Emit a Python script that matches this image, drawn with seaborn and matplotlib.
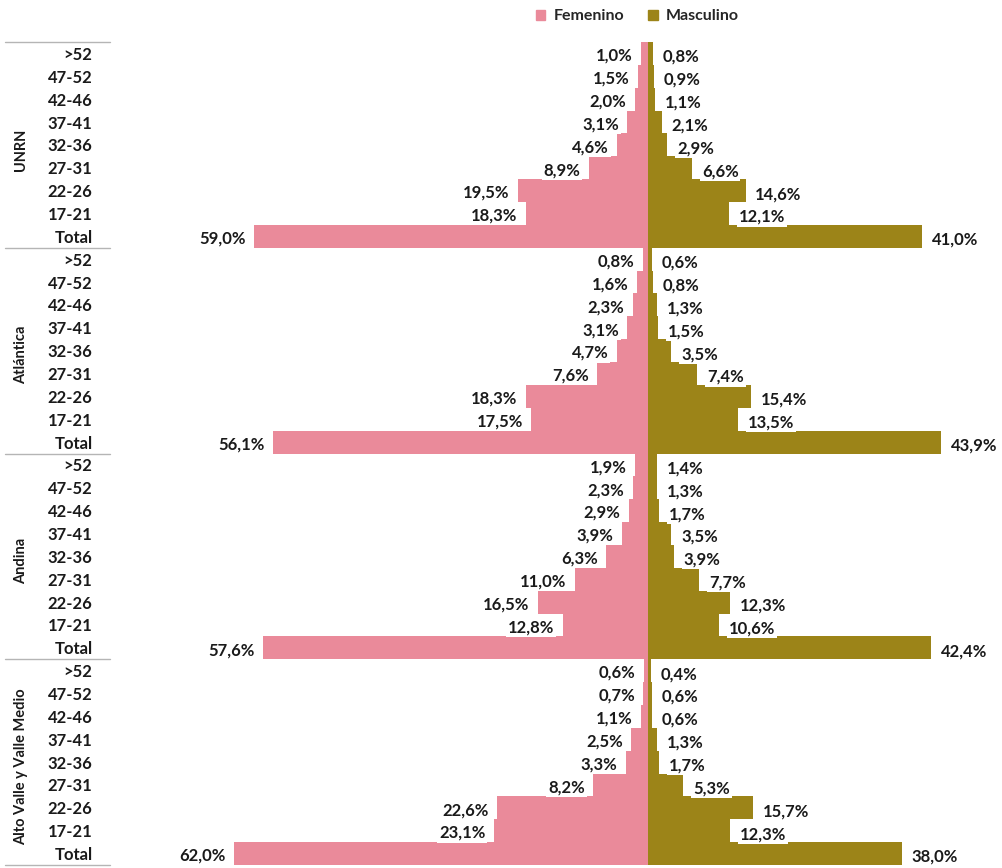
import pandas as pd
import numpy as np
import matplotlib.pyplot as plt
import seaborn as sns
from matplotlib.patches import Patch
import matplotlib.transforms as mtransforms

# Datos
grupos = ['UNRN', 'Atlántica', 'Andina', 'Alto Valle y Valle Medio']
edades = ['>52', '47-52', '42-46', '37-41', '32-36', '27-31', '22-26', '17-21', 'Total']

femenino_unrn = [1.0, 1.5, 2.0, 3.1, 4.6, 8.9, 19.5, 18.3, 59.0]
masculino_unrn = [0.8, 0.9, 1.1, 2.1, 2.9, 6.6, 14.6, 12.1, 41.0]
femenino_atl = [0.8, 1.6, 2.3, 3.1, 4.7, 7.6, 18.3, 17.5, 56.1]
masculino_atl = [0.6, 0.8, 1.3, 1.5, 3.5, 7.4, 15.4, 13.5, 43.9]
femenino_and = [1.9, 2.3, 2.9, 3.9, 6.3, 11.0, 16.5, 12.8, 57.6]
masculino_and = [1.4, 1.3, 1.7, 3.5, 3.9, 7.7, 12.3, 10.6, 42.4]
femenino_avvm = [0.6, 0.7, 1.1, 2.5, 3.3, 8.2, 22.6, 23.1, 62.0]
masculino_avvm = [0.4, 0.6, 0.6, 1.3, 1.7, 5.3, 15.7, 12.3, 38.0]

femenino = [femenino_unrn, femenino_atl, femenino_and, femenino_avvm]
masculino = [masculino_unrn, masculino_atl, masculino_and, masculino_avvm]

col_fem = '#EA8A9A'
col_mas = '#9C8418'

# Armar tabla larga
filas = []
for g, fv, mv in zip(grupos, femenino, masculino):
    for e, f, m in zip(edades, fv, mv):
        filas.append({'fila': f'{g}|{e}', 'edad': e, 'sexo': 'Femenino', 'valor': -f, 'pct': f})
        filas.append({'fila': f'{g}|{e}', 'edad': e, 'sexo': 'Masculino', 'valor': m, 'pct': m})
df = pd.DataFrame(filas)
orden = list(dict.fromkeys(df['fila']))

sns.set_style('white')
plt.rcParams['font.family'] = ['Lato', 'DejaVu Sans']
plt.rcParams['font.weight'] = 'bold'

fig = plt.figure(figsize=(10.02, 8.68), dpi=100)
ax = fig.add_axes([105 / 1002, 1 - 865 / 868, 897 / 1002, (865 - 42) / 868])

sns.barplot(data=df, x='valor', y='fila', hue='sexo', order=orden, orient='h',
            palette={'Femenino': col_fem, 'Masculino': col_mas}, saturation=1,
            dodge=False, width=1.0, legend=False, linewidth=0, ax=ax)

ax.set_xlim(-81.3, 53.0)
ax.set_ylim(len(orden) - 0.5, -0.5)
ax.set_xlabel('')
ax.set_ylabel('')
ax.set_xticks([])
ax.set_yticks(range(len(orden)))
ax.set_yticklabels([f.split('|')[1] for f in orden], fontsize=12, fontweight='bold', color='#1a1a1a')
ax.tick_params(axis='y', length=0, pad=9)
sns.despine(ax=ax, left=True, bottom=True)

# Etiquetas de datos
for i, fila in enumerate(orden):
    sub = df[df['fila'] == fila]
    f = sub[sub['sexo'] == 'Femenino']['pct'].iloc[0]
    m = sub[sub['sexo'] == 'Masculino']['pct'].iloc[0]
    caja = dict(boxstyle='square,pad=0.1', fc='white', ec='none')
    ax.annotate(f'{f:.1f}%'.replace('.', ','), xy=(-f, i + 0.1), xytext=(-6, 0),
                textcoords='offset points', ha='right', va='center', fontsize=12,
                fontweight='bold', color='#1a1a1a', bbox=caja)
    ax.annotate(f'{m:.1f}%'.replace('.', ','), xy=(m, i + 0.15), xytext=(7, 0),
                textcoords='offset points', ha='left', va='center', fontsize=12,
                fontweight='bold', color='#1a1a1a', bbox=caja)

# Nombres de grupo y separadores
trans = mtransforms.blended_transform_factory(ax.transAxes, ax.transData)
n = len(edades)
for k, g in enumerate(grupos):
    centro = k * n + (n - 1) / 2 + 0.2
    ax.text(-0.094, centro, g, rotation=90, transform=trans, ha='center', va='center',
            fontsize=10.5, fontweight='bold', color='#1a1a1a')
for k in range(len(grupos) + 1):
    y = k * n - 0.5
    ax.plot([-0.111, 0.006], [y, y], transform=trans, color='#b5b5b5', lw=1, clip_on=False)

# Leyenda
handles = [Patch(color=col_fem, label='Femenino'), Patch(color=col_mas, label='Masculino')]
fig.legend(handles=handles, loc='center', bbox_to_anchor=(0.636, 0.981), ncol=2,
           frameon=False, handlelength=0.6, handleheight=0.6, handletextpad=0.5,
           columnspacing=1.5, prop={'size': 11.5, 'weight': 'bold'})

fig.savefig('out.png', dpi=100, facecolor='white')
